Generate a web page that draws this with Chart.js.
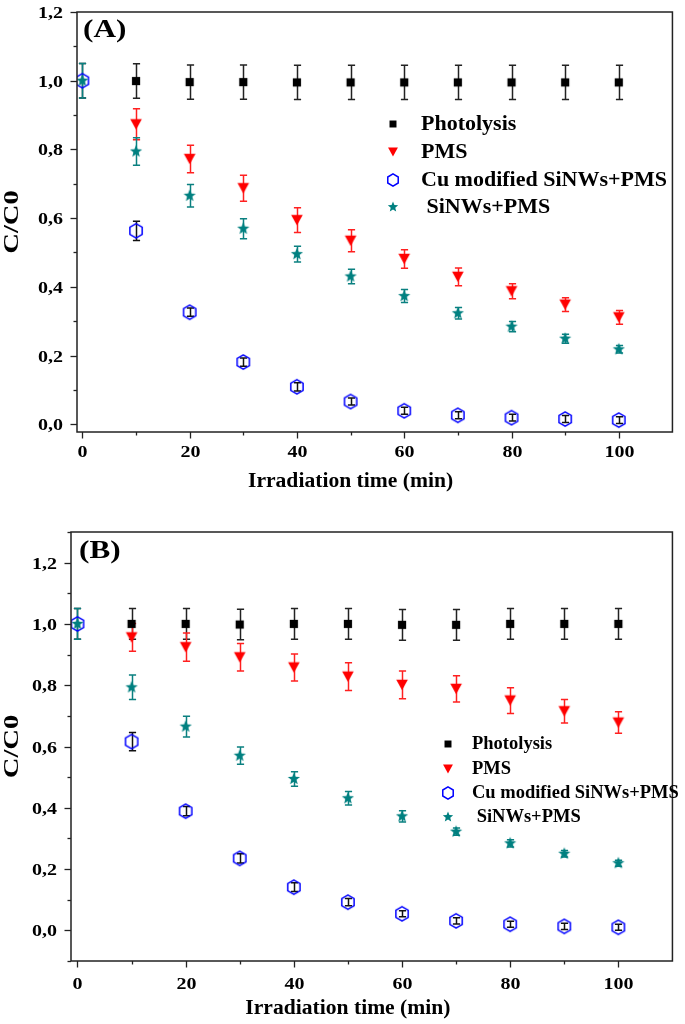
<!DOCTYPE html>
<html><head><meta charset="utf-8">
<script src="https://cdn.jsdelivr.net/npm/chart.js@4.4.1/dist/chart.umd.min.js"></script>
<style>
html,body{margin:0;padding:0;background:#fff;width:685px;height:1024px;overflow:hidden}
canvas{display:block;position:absolute;left:0}
#ca{top:0}
#cb{top:500px}
</style></head><body>
<canvas id="ca" width="685" height="500"></canvas>
<canvas id="cb" width="685" height="524"></canvas>
<script>
// ---------- data ----------
const times = [0, 10, 20, 30, 40, 50, 60, 70, 80, 90, 100];
const seriesNames = ['Photolysis', 'PMS', 'Cu modified SiNWs+PMS', ' SiNWs+PMS'];

// Panel (A)  (null = no marker visible at that time)
const photoA    = [null, 0.999, 0.996, 0.996, 0.995, 0.995, 0.995, 0.995, 0.995, 0.995, 0.995];
const photoAErr = [0, 0.05, 0.05, 0.05, 0.05, 0.05, 0.05, 0.05, 0.05, 0.05, 0.05];
const pmsA      = [null, 0.873, 0.772, 0.687, 0.594, 0.534, 0.481, 0.429, 0.387, 0.348, 0.311];
const pmsAErr   = [0, 0.045, 0.040, 0.038, 0.036, 0.032, 0.027, 0.026, 0.022, 0.020, 0.020];
const cuA       = [1.0, 0.563, 0.326, 0.181, 0.109, 0.066, 0.039, 0.026, 0.019, 0.015, 0.012];
const cuAErr    = [0.05, 0.028, 0.012, 0.012, 0.012, 0.010, 0.010, 0.010, 0.010, 0.010, 0.010];
const starA     = [1.0, 0.794, 0.665, 0.569, 0.495, 0.430, 0.373, 0.323, 0.284, 0.249, 0.218];
const starAErr  = [0.05, 0.040, 0.033, 0.029, 0.023, 0.021, 0.019, 0.017, 0.015, 0.013, 0.011];

// Panel (B)
const photoB    = [null, 1.0, 1.0, 0.998, 1.0, 1.0, 0.997, 0.997, 1.0, 1.0, 1.0];
const photoBErr = [0, 0.05, 0.05, 0.05, 0.05, 0.05, 0.05, 0.05, 0.05, 0.05, 0.05];
const pmsB      = [null, 0.956, 0.924, 0.891, 0.858, 0.828, 0.801, 0.788, 0.750, 0.715, 0.678];
const pmsBErr   = [0, 0.045, 0.046, 0.045, 0.044, 0.045, 0.045, 0.043, 0.042, 0.038, 0.035];
const cuB       = [1.0, 0.616, 0.389, 0.235, 0.141, 0.092, 0.054, 0.031, 0.020, 0.013, 0.010];
const cuBErr    = [0.05, 0.030, 0.015, 0.015, 0.014, 0.012, 0.010, 0.010, 0.010, 0.010, 0.010];
const starB     = [1.0, 0.793, 0.665, 0.570, 0.494, 0.431, 0.372, 0.322, 0.284, 0.250, 0.219];
const starBErr  = [0.05, 0.040, 0.034, 0.028, 0.024, 0.022, 0.018, 0.012, 0.012, 0.011, 0.010];

const xTickStep = 10, xMajor = 20;
const yTickStep = 0.1;

// ---------- styles ----------
const COL = { photo: '#000000', pms: '#ff0000', cu: '#0000ff', star: '#008080' };
const ERRCOL = { photo: '#222222', pms: '#ff2020', cu: '#111111', star: '#0a8080' };
const SERIF = '"Liberation Serif", "Times New Roman", serif';

function marker(kind, s) {
  const W = Math.round(18 * s) | 1;
  const c = document.createElement('canvas');
  c.width = W + 1; c.height = W + 1;
  const g = c.getContext('2d');
  const cx = c.width / 2, cy = c.height / 2;
  if (kind === 'square') {
    const h = 4.1 * s; g.fillStyle = COL.photo; g.fillRect(cx - h, cy - h, 2 * h, 2 * h);
  } else if (kind === 'tri') {
    const hw = 5.8 * s, hh = 5.2 * s;
    g.fillStyle = COL.pms; g.beginPath();
    g.moveTo(cx - hw, cy - hh); g.lineTo(cx + hw, cy - hh); g.lineTo(cx, cy + hh);
    g.closePath(); g.fill();
  } else if (kind === 'hex') {
    const r = 7.1 * s; g.strokeStyle = COL.cu; g.lineWidth = 1.5; g.beginPath();
    for (let i = 0; i < 6; i++) {
      const a = -Math.PI / 2 + i * Math.PI / 3;
      const px = cx + r * Math.cos(a), py = cy + r * Math.sin(a);
      if (i === 0) g.moveTo(px, py); else g.lineTo(px, py);
    }
    g.closePath(); g.stroke();
  } else if (kind === 'star') {
    const ro = 6.4 * s, ri = 2.8 * s; g.fillStyle = COL.star; g.beginPath();
    for (let i = 0; i < 10; i++) {
      const r = i % 2 ? ri : ro; const a = -Math.PI / 2 + i * Math.PI / 5;
      const px = cx + r * Math.cos(a), py = cy + r * Math.sin(a);
      if (i === 0) g.moveTo(px, py); else g.lineTo(px, py);
    }
    g.closePath(); g.fill();
  }
  return c;
}
const KINDS = ['square', 'tri', 'hex', 'star'];
const KEYS = ['photo', 'pms', 'cu', 'star'];

function stext(ctx, txt, x, y, font, align, base, sx, rot) {
  ctx.save();
  ctx.font = font; ctx.textAlign = align; ctx.textBaseline = base; ctx.fillStyle = '#000';
  ctx.translate(x, y);
  if (rot) ctx.rotate(rot);
  ctx.scale(sx, 1);
  ctx.fillText(txt, 0, 0);
  ctx.restore();
}

const errorBars = {
  id: 'errorBars',
  beforeDatasetsDraw(chart) {
    const { ctx, scales: { x, y }, chartArea: a } = chart;
    ctx.save();
    ctx.beginPath(); ctx.rect(a.left, a.top - 2, a.right - a.left, a.bottom - a.top + 4); ctx.clip();
    ctx.lineWidth = 1.5;
    chart.data.datasets.forEach(ds => {
      ctx.strokeStyle = ds.errColor;
      ds.data.forEach((p, i) => {
        const e = ds.errors[i]; if (!e || p.y === null) return;
        const px = Math.round(x.getPixelForValue(p.x)) + 0.5;
        const y1 = y.getPixelForValue(p.y + e), y2 = y.getPixelForValue(p.y - e);
        ctx.beginPath();
        ctx.moveTo(px, y1); ctx.lineTo(px, y2);
        ctx.moveTo(px - 3.6, y1); ctx.lineTo(px + 3.6, y1);
        ctx.moveTo(px - 3.6, y2); ctx.lineTo(px + 3.6, y2);
        ctx.stroke();
      });
    });
    ctx.restore();
  }
};

const deco = {
  id: 'deco',
  afterDraw(chart, args, o) {
    const { ctx, chartArea: a, scales: { x, y } } = chart;
    ctx.save();
    ctx.strokeStyle = '#222'; ctx.lineWidth = 1.5;
    ctx.strokeRect(a.left, a.top, a.right - a.left, a.bottom - a.top);
    const tickFont = 'bold 16px ' + SERIF;
    ctx.lineWidth = 1.3;
    x.ticks.forEach(t => {
      if (t.value > 100 + 1e-9) return;
      const px = Math.round(x.getPixelForValue(t.value)) + 0.5;
      const major = Math.round(t.value) % xMajor === 0;
      ctx.beginPath(); ctx.moveTo(px, a.bottom); ctx.lineTo(px, a.bottom + (major ? 6.5 : 3.5)); ctx.stroke();
      if (major) stext(ctx, String(t.value), px, a.bottom + o.xLabelDy, tickFont, 'center', 'middle', 1.25);
    });
    y.ticks.forEach(t => {
      const py = Math.round(y.getPixelForValue(t.value)) + 0.5;
      const k = Math.round(t.value * 10);
      const major = k % 2 === 0;
      ctx.beginPath(); ctx.moveTo(a.left, py); ctx.lineTo(a.left - (major ? 6.5 : 3.5), py); ctx.stroke();
      if (major) stext(ctx, (k / 10).toFixed(1).replace('.', ','), a.left - 14, py + 1, tickFont, 'right', 'middle', 1.25);
    });
    // axis titles
    stext(ctx, 'Irradiation time (min)', x.getPixelForValue(50), a.bottom + o.xTitleDy, 'bold 20px ' + SERIF, 'center', 'middle', 1.08);
    stext(ctx, 'C/C0', 12, (a.top + a.bottom) / 2, 'bold 22px ' + SERIF, 'center', 'middle', 1.3, -Math.PI / 2);
    // panel letter
    stext(ctx, o.letter, o.letterX, o.letterY, 'bold 26px ' + SERIF, 'left', 'middle', 1.2);
    // legend
    chart.data.datasets.forEach((ds, i) => {
      const yy = o.legY[i];
      const m = ds.legendMarker;
      ctx.drawImage(m, o.legMX - m.width / 2, yy - m.height / 2);
      stext(ctx, ds.label, o.legTX, yy, 'bold ' + o.legFont + 'px ' + SERIF, 'left', 'middle', 1.0);
    });
    ctx.restore();
  }
};

function makeDatasets(vals, errs) {
  return vals.map((v, i) => ({
    label: seriesNames[i],
    data: times.map((t, j) => ({ x: t, y: v[j] })),
    errors: errs[i],
    errColor: ERRCOL[KEYS[i]],
    pointStyle: marker(KINDS[i], 1),
    legendMarker: marker(KINDS[i], 0.85),
    pointRadius: 6,
    showLine: false,
    order: 3 - i
  }));
}

function makeChart(id, datasets, cfg) {
  return new Chart(document.getElementById(id), {
    type: 'scatter',
    data: { datasets },
    plugins: [errorBars, deco],
    options: {
      responsive: false,
      animation: false,
      events: [],
      layout: { padding: { left: 0, right: 1, top: cfg.padTop, bottom: 0 } },
      plugins: { legend: { display: false }, tooltip: { enabled: false }, deco: cfg.deco },
      scales: {
        x: {
          type: 'linear', min: cfg.xmin, max: 110,
          grid: { display: false }, border: { display: false },
          ticks: { stepSize: xTickStep, includeBounds: false, autoSkip: false, maxTicksLimit: 100, color: 'rgba(0,0,0,0)' },
          afterFit: s => { s.height = cfg.xH; }
        },
        y: {
          type: 'linear', min: cfg.ymin, max: cfg.ymax,
          grid: { display: false }, border: { display: false },
          ticks: { stepSize: yTickStep, includeBounds: false, autoSkip: false, maxTicksLimit: 100, color: 'rgba(0,0,0,0)' },
          afterFit: s => { s.width = cfg.yW; }
        }
      }
    }
  });
}

makeChart('ca',
  makeDatasets([photoA, pmsA, cuA, starA], [photoAErr, pmsAErr, cuAErr, starAErr]),
  { padTop: 12, xmin: -1, ymin: -0.0227, ymax: 1.2, xH: 68, yW: 77,
    deco: { xLabelDy: 21, xTitleDy: 49.5, letter: '(A)', letterX: 83, letterY: 30,
            legY: [124, 152, 180, 207], legMX: 393, legTX: 421, legFont: 22 } });

makeChart('cb',
  makeDatasets([photoB, pmsB, cuB, starB], [photoBErr, pmsBErr, cuBErr, starBErr]),
  { padTop: 32, xmin: -1.2, ymin: -0.1, ymax: 1.3, xH: 63, yW: 71,
    deco: { xLabelDy: 24, xTitleDy: 48, letter: '(B)', letterX: 79, letterY: 51,
            legY: [244, 269, 293, 317], legMX: 448, legTX: 472, legFont: 18.5 } });
</script>
</body></html>
